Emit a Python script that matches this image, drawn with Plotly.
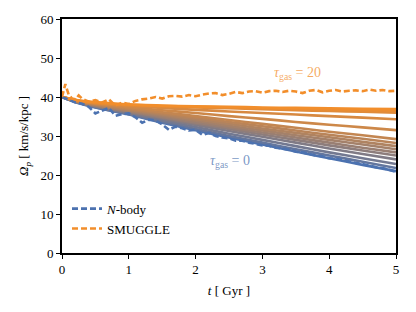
import plotly.graph_objects as go

# ---- data ----
t_solid = [0, 0.25, 0.5, 1, 1.5, 2, 2.5, 3, 3.5, 4, 4.5, 5]
solid_lines = [
    [40.0, 38.4, 37.3, 35.5, 33.4, 31.5, 29.6, 27.8, 26.0, 24.3, 22.6, 21.0],
    [40.0, 38.5, 37.4, 35.6, 33.6, 31.8, 30.0, 28.3, 26.6, 25.0, 23.4, 21.8],
    [40.0, 38.5, 37.5, 35.8, 34.0, 32.3, 30.6, 29.0, 27.4, 25.8, 24.3, 22.8],
    [40.0, 38.6, 37.6, 36.0, 34.4, 32.8, 31.3, 29.8, 28.3, 26.8, 25.4, 24.0],
    [40.0, 38.6, 37.7, 36.2, 34.7, 33.2, 31.8, 30.4, 29.0, 27.6, 26.3, 25.0],
    [40.0, 38.7, 37.8, 36.3, 34.9, 33.5, 32.2, 30.9, 29.6, 28.3, 27.0, 25.8],
    [40.0, 38.7, 37.9, 36.5, 35.2, 33.9, 32.6, 31.4, 30.2, 29.0, 27.8, 26.6],
    [40.0, 38.8, 38.0, 36.7, 35.5, 34.3, 33.1, 31.9, 30.8, 29.7, 28.5, 27.4],
    [40.0, 38.8, 38.1, 36.9, 35.8, 34.7, 33.6, 32.5, 31.4, 30.3, 29.3, 28.2],
    [40.0, 38.9, 38.2, 37.1, 36.1, 35.1, 34.1, 33.1, 32.1, 31.1, 30.2, 29.2],
    [40.0, 38.9, 38.3, 37.4, 36.6, 35.9, 35.1, 34.4, 33.6, 32.9, 32.2, 31.5],
    [40.0, 39.0, 38.4, 37.7, 37.2, 36.7, 36.3, 35.9, 35.5, 35.1, 34.7, 34.3],
    [40.0, 39.0, 38.5, 37.9, 37.6, 37.3, 37.1, 36.9, 36.6, 36.4, 36.2, 36.0],
    [40.0, 39.1, 38.6, 38.0, 37.7, 37.5, 37.3, 37.1, 36.9, 36.8, 36.6, 36.5],
    [40.0, 39.1, 38.7, 38.1, 37.8, 37.6, 37.5, 37.3, 37.2, 37.1, 37.0, 36.9],
]

t_nbody = [round(0.1 * i, 1) for i in range(51)]
nbody = [40.0, 39.3, 38.6, 38.3, 37.5, 35.8, 36.4, 37.2, 35.2, 35.6,
         35.8, 34.8, 33.4, 34.2, 34.0, 33.0, 31.6, 32.4, 32.0, 31.4,
         31.6, 30.3, 30.8, 30.0, 29.6, 29.4, 28.8, 28.8, 28.3, 28.0,
         27.6, 27.5, 27.0, 26.8, 26.5, 26.0, 25.8, 25.4, 25.0, 24.8,
         24.3, 24.2, 23.8, 23.4, 23.1, 22.8, 22.4, 22.0, 21.8, 21.3, 20.8]

t_smuggle = [0, 0.05, 0.1, 0.15, 0.2, 0.25, 0.3, 0.4, 0.5, 0.6, 0.7, 0.8, 0.9,
             1.0, 1.1, 1.2, 1.3, 1.4, 1.5, 1.6, 1.7, 1.8, 1.9, 2.0, 2.1, 2.2,
             2.3, 2.4, 2.5, 2.6, 2.7, 2.8, 2.9, 3.0, 3.1, 3.2, 3.3, 3.4, 3.5,
             3.6, 3.7, 3.8, 3.9, 4.0, 4.1, 4.2, 4.3, 4.4, 4.5, 4.6, 4.7, 4.8,
             4.9, 5.0]
smuggle = [40.0, 43.3, 40.6, 39.6, 39.4, 40.4, 39.6, 38.8, 39.2, 38.6, 39.4,
           37.8, 38.6, 38.2, 39.0, 39.4, 39.6, 40.0, 39.6, 40.2, 40.3, 40.1,
           40.5, 40.2, 40.6, 40.9, 41.0, 40.5, 40.8, 41.3, 41.0, 41.4, 41.5,
           41.1, 41.5, 41.6, 41.3, 41.6, 41.4, 41.0, 41.6, 41.8, 41.2, 41.6,
           41.8, 41.4, 41.6, 41.7, 41.5, 41.9, 41.6, 41.8, 41.5, 41.6]

x_ticks = [0, 1, 2, 3, 4, 5]
y_ticks = [0, 10, 20, 30, 40, 50, 60]

BLUE = (76, 114, 176)
ORANGE = (242, 142, 43)


def mix(f):
    r = round(BLUE[0] + (ORANGE[0] - BLUE[0]) * f)
    g = round(BLUE[1] + (ORANGE[1] - BLUE[1]) * f)
    b = round(BLUE[2] + (ORANGE[2] - BLUE[2]) * f)
    return f"rgb({r},{g},{b})"


fig = go.Figure()
n = len(solid_lines)
for i, vals in enumerate(solid_lines):
    fig.add_trace(go.Scatter(
        x=t_solid, y=vals, mode="lines",
        line=dict(color=mix((i / (n - 1)) ** 0.75), width=2.6, shape="spline", smoothing=0.6),
        showlegend=False, hoverinfo="skip"))

fig.add_trace(go.Scatter(x=t_nbody, y=nbody, mode="lines", name="<i>N</i>-body",
                         line=dict(color="rgb(76,114,176)", width=2.6, dash="6px,3px")))
fig.add_trace(go.Scatter(x=t_smuggle, y=smuggle, mode="lines", name="SMUGGLE",
                         line=dict(color="rgb(242,142,43)", width=2.6, dash="6px,3px")))

FONT = "Liberation Serif, DejaVu Serif, serif"
fig.add_annotation(x=3.52, y=45.9, text="<i>τ</i><sub>gas</sub> = 20", showarrow=False,
                   font=dict(family=FONT, size=14, color="rgba(242,142,43,0.75)"))
fig.add_annotation(x=2.51, y=23.5, text="<i>τ</i><sub>gas</sub> = 0", showarrow=False,
                   font=dict(family=FONT, size=14, color="rgba(76,114,176,0.75)"))

axis_common = dict(showgrid=False, zeroline=False, showline=True, linecolor="black", linewidth=1.6,
                   mirror=True, ticks="outside", ticklen=4, tickwidth=1.3, tickcolor="black",
                   automargin=False,
                   tickfont=dict(family=FONT, size=13, color="black"))
fig.update_xaxes(range=[0, 5], tickvals=x_ticks, **axis_common,
                 title=dict(text="<i>t</i> [ Gyr ]", font=dict(family=FONT, size=13, color="black"), standoff=9))
fig.update_yaxes(range=[0, 60], tickvals=y_ticks, **axis_common,
                 title=dict(text="<i>Ω</i><sub><i>p</i></sub> [ km/s/kpc ]", font=dict(family=FONT, size=13, color="black"), standoff=9))

fig.update_layout(
    width=408, height=304, margin=dict(l=54, r=20, t=11, b=59),
    paper_bgcolor="white", plot_bgcolor="white",
    font=dict(family=FONT, size=13, color="black"),
    legend=dict(x=0.015, y=0.04, xanchor="left", yanchor="bottom", bgcolor="rgba(0,0,0,0)",
                itemwidth=30, font=dict(family=FONT, size=13), tracegroupgap=0),
)

fig.write_html("out.html")
